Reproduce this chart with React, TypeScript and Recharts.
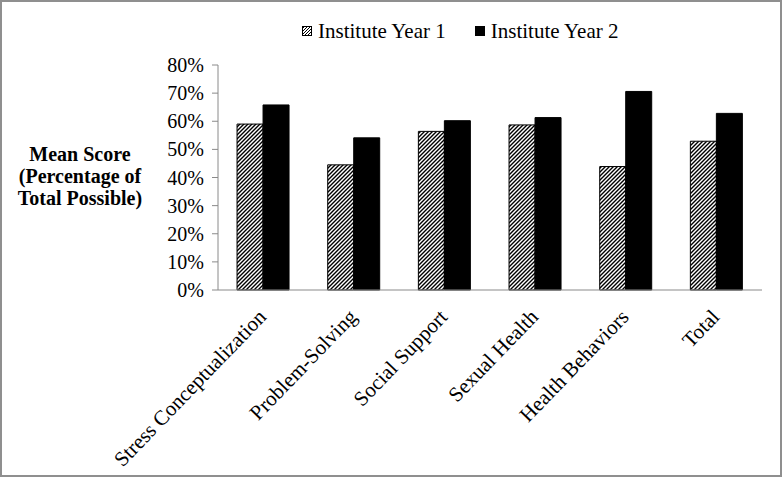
import { BarChart, Bar, XAxis, YAxis, Legend } from 'recharts';

const categories = ['Stress Conceptualization', 'Problem-Solving', 'Social Support', 'Sexual Health', 'Health Behaviors', 'Total'];
const year1 = [59, 44.5, 56.4, 58.7, 43.9, 52.9];
const year2 = [65.8, 54.1, 60.2, 61.3, 70.6, 62.8];
const yTicks = [0, 10, 20, 30, 40, 50, 60, 70, 80];
const edgeTicks = [0, 1, 2, 3, 4, 5, 6];

const chartData = categories.map((name, i) => ({ name, y1: year1[i], y2: year2[i] }));

const FONT = '"Liberation Serif", "Times New Roman", serif';
const AXIS_GRAY = '#8a8a8a';

function CategoryTick({ x, y, payload }: any) {
    return (
        <g transform={`translate(${x + 4},${y + 20})`}>
            <text x={0} y={0} textAnchor="end" transform="rotate(-46)" fontFamily={FONT} fontSize={21} fill="#000">
                {payload.value}
            </text>
        </g>
    );
}

function YTitle({ viewBox }: any) {
    const cx = (viewBox?.x ?? 0) + 80;
    return (
        <text textAnchor="middle" fontFamily={FONT} fontSize={20} fontWeight="bold" fill="#000">
            <tspan x={cx} y={161}>Mean Score</tspan>
            <tspan x={cx} y={183}>(Percentage of</tspan>
            <tspan x={cx} y={205}>Total Possible)</tspan>
        </text>
    );
}

function LegendBox() {
    const item = (label: string, hatched: boolean) => (
        <div style={{ display: 'flex', alignItems: 'center', marginRight: 29 }}>
            <svg width={10} height={10} style={{ marginRight: 6 }}>
                <rect x={0.5} y={0.5} width={9} height={9} fill={hatched ? 'url(#hatchLegend)' : '#000'} stroke="#000" />
            </svg>
            <span>{label}</span>
        </div>
    );
    return (
        <div style={{ display: 'flex', justifyContent: 'flex-start', height: 24, alignItems: 'center', fontFamily: FONT, fontSize: 21, color: '#000', paddingLeft: 302 }}>
            <svg width={0} height={0} style={{ position: 'absolute' }}>
                <defs>
                    <pattern id="hatchLegend" width={3} height={3} patternUnits="userSpaceOnUse">
                        <path d="M-1,1 l2,-2 M0,3 l3,-3 M2,4 l2,-2" stroke="#000" strokeWidth={1} />
                    </pattern>
                </defs>
            </svg>
            {item('Institute Year 1', true)}
            {item('Institute Year 2', false)}
        </div>
    );
}

export default function App() {
    return (
        <div style={{ position: 'absolute', left: 0, top: 0, width: 782, height: 477, background: '#fff' }}>
            <div style={{ position: 'absolute', inset: 0, border: '2px solid #8f8f8f', boxSizing: 'border-box', pointerEvents: 'none' }} />
            <BarChart
                width={782}
                height={477}
                data={chartData}
                margin={{ top: 41, right: 20, left: 0, bottom: 185 }}
                barCategoryGap="21%"
                barGap={0}
            >
                <defs>
                    <pattern id="hatch" width={4} height={4} patternUnits="userSpaceOnUse">
                        <rect width={4} height={4} fill="#fff" />
                        <path d="M-1,1 l2,-2 M0,4 l4,-4 M3,5 l2,-2" stroke="#000" strokeWidth={1.4} />
                    </pattern>
                </defs>
                <Legend verticalAlign="top" height={24} wrapperStyle={{ top: 19 }} content={() => <LegendBox />} />
                <XAxis
                    dataKey="name"
                    xAxisId="cat"
                    height={1}
                    interval={0}
                    tickLine={false}
                    axisLine={{ stroke: AXIS_GRAY }}
                    tick={<CategoryTick />}
                />
                <XAxis
                    xAxisId="edges"
                    type="number"
                    domain={[0, 6]}
                    ticks={edgeTicks}
                    allowDataOverflow
                    height={1}
                    axisLine={false}
                    tick={false}
                    tickSize={6}
                    tickLine={{ stroke: AXIS_GRAY }}
                />
                <YAxis
                    width={218}
                    domain={[0, 80]}
                    ticks={yTicks}
                    interval={0}
                    tickFormatter={(v) => `${v}%`}
                    tick={{ fontFamily: FONT, fontSize: 20, fill: '#000' }}
                    tickSize={6}
                    tickMargin={8}
                    tickLine={{ stroke: AXIS_GRAY }}
                    axisLine={{ stroke: AXIS_GRAY }}
                    label={{ content: (props: any) => <YTitle {...props} /> }}
                />
                <Bar xAxisId="cat" dataKey="y1" name="Institute Year 1" fill="url(#hatch)" stroke="#000" strokeWidth={1} isAnimationActive={false} />
                <Bar xAxisId="cat" dataKey="y2" name="Institute Year 2" fill="#000" stroke="#000" strokeWidth={1} isAnimationActive={false} />
            </BarChart>
        </div>
    );
}
